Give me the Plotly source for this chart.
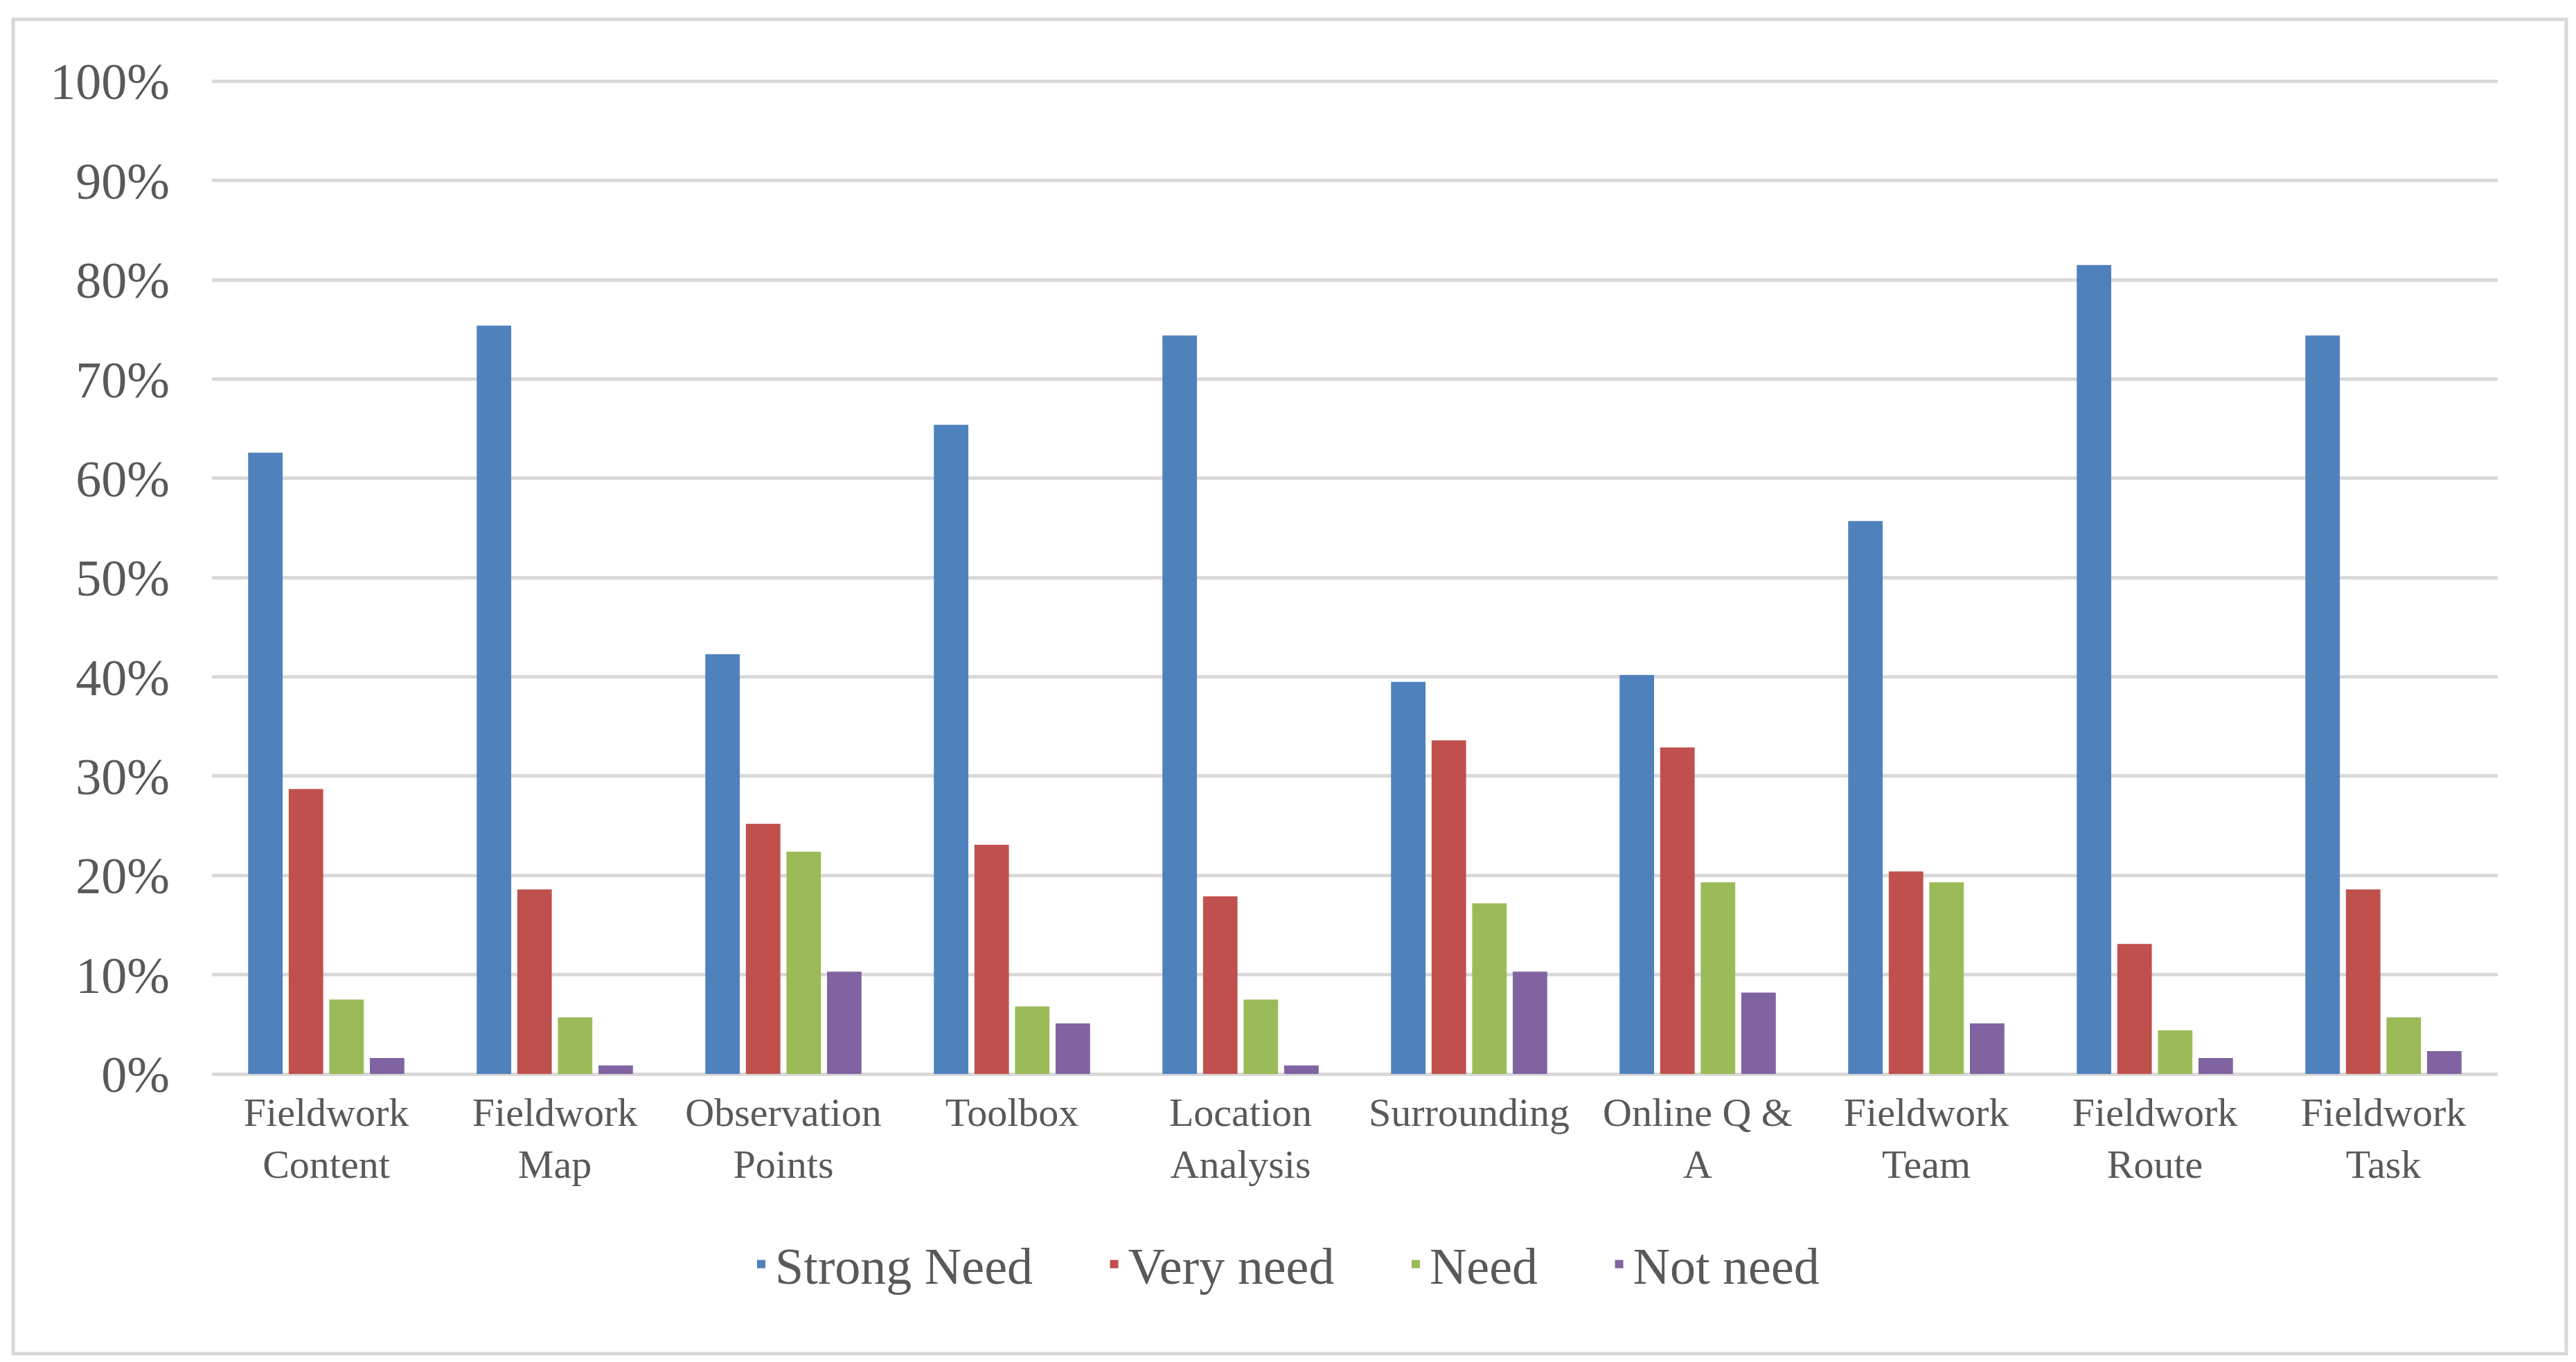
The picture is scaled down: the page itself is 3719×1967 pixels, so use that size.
import plotly.graph_objects as go

categories = ["Fieldwork<br>Content", "Fieldwork<br>Map", "Observation<br>Points", "Toolbox",
              "Location<br>Analysis", "Surrounding", "Online Q &<br>A", "Fieldwork<br>Team",
              "Fieldwork<br>Route", "Fieldwork<br>Task"]
strong_need = [62.6, 75.4, 42.3, 65.4, 74.4, 39.5, 40.2, 55.7, 81.5, 74.4]
very_need = [28.7, 18.6, 25.2, 23.1, 17.9, 33.6, 32.9, 20.4, 13.1, 18.6]
need = [7.5, 5.7, 22.4, 6.8, 7.5, 17.2, 19.3, 19.3, 4.4, 5.7]
not_need = [1.6, 0.85, 10.3, 5.1, 0.85, 10.3, 8.2, 5.1, 1.6, 2.3]
series_names = ["Strong Need", "Very need", "Need", "Not need"]
series_colors = ["#4F81BD", "#C0504D", "#9BBB59", "#8064A2"]
y_ticks = [0, 10, 20, 30, 40, 50, 60, 70, 80, 90, 100]
y_ticktext = [f"{v}%" for v in y_ticks]
legend_pad = [5, 5, 5, 0]

W, H = 3719, 1967
L, R, T, B = 298, 3598, 106, 1543
pw, ph = R - L, B - T

fig = go.Figure()
for name, vals, col, pad in zip(series_names, [strong_need, very_need, need, not_need], series_colors, legend_pad):
    fig.add_trace(go.Bar(x=categories, y=vals, name=name + "\u00a0" * pad,
                         marker=dict(color=col, line=dict(width=0)),
                         hovertemplate=name + ": %{y}%<extra></extra>"))

font_family = "Liberation Serif, Times New Roman, serif"
text_color = "#595959"
grid_color = "#D9D9D9"

fig.update_layout(
    width=W, height=H,
    margin=dict(l=L, r=W - R, t=T, b=H - B, pad=0),
    paper_bgcolor="white", plot_bgcolor="white",
    barmode="group", bargap=0.29, bargroupgap=0.15,
    font=dict(family=font_family, color=text_color),
    showlegend=True,
    legend=dict(orientation="h", x=(W / 2 - 12 - L) / pw, xanchor="center",
                y=(B - 1818) / ph, yanchor="middle",
                font=dict(size=74, family=font_family, color=text_color),
                traceorder="normal"),
    xaxis=dict(showgrid=False, showline=False, zeroline=False, ticks="",
               tickfont=dict(size=58, family=font_family, color=text_color),
               ticklabelstandoff=16),
    yaxis=dict(range=[0, 100.25], tickmode="array", tickvals=y_ticks, ticktext=y_ticktext,
               showgrid=True, gridcolor=grid_color, gridwidth=5,
               zeroline=True, zerolinecolor=grid_color, zerolinewidth=5,
               showline=False, ticks="",
               tickfont=dict(size=74, family=font_family, color=text_color),
               ticklabelstandoff=60),
    shapes=[dict(type="rect", xref="paper", yref="paper",
                 x0=(11 - L) / pw, x1=(3697 - L) / pw,
                 y0=(B - 1947) / ph, y1=(B - 20) / ph,
                 line=dict(color=grid_color, width=5), fillcolor="rgba(0,0,0,0)", layer="below")],
)

fig.write_html("out.html")
